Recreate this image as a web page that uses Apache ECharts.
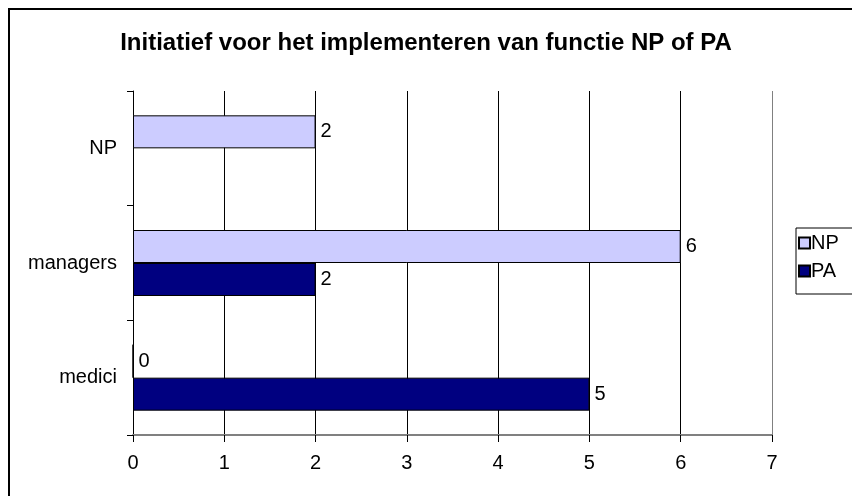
<!DOCTYPE html>
<html>
<head>
<meta charset="utf-8">
<script src="https://cdn.jsdelivr.net/npm/echarts@6/dist/echarts.min.js"></script>
<style>
html, body { margin: 0; padding: 0; background: #fff; }
#chart { width: 852px; height: 496px; }
</style>
</head>
<body>
<div id="chart"></div>
<script>
var categories = ['medici', 'managers', 'NP'];
var npValues = [0, 6, 2];
var paValues = [5, 2, null];
var xTicks = [0, 7, 1];   // min, max, interval

var font = 'Liberation Sans, Arial, sans-serif';
var chart = echarts.init(document.getElementById('chart'));

function barLabel() {
    return {
        show: true,
        position: 'right',
        distance: 5,
        color: '#000',
        fontSize: 20,
        fontFamily: font
    };
}

var option = {
    animation: false,
    backgroundColor: '#fff',
    graphic: [{
        type: 'rect',
        shape: { x: 9, y: 9, width: 900, height: 600 },
        style: { fill: 'none', stroke: '#000', lineWidth: 2 },
        silent: true
    }],
    title: {
        text: 'Initiatief voor het implementeren van functie NP of PA',
        left: 'center',
        top: 26,
        textStyle: {
            fontFamily: font,
            fontSize: 24,
            fontWeight: 'bold',
            color: '#000'
        }
    },
    legend: {
        orient: 'vertical',
        left: 796,
        top: 228,
        data: ['NP', 'PA'],
        icon: 'rect',
        itemWidth: 11,
        itemHeight: 11,
        itemGap: 8,
        padding: [5, 40, 13, 2],
        borderColor: '#000',
        borderWidth: 1,
        textStyle: { fontFamily: font, fontSize: 20, lineHeight: 20, color: '#000', padding: [0, 0, 0, -4] }
    },
    grid: {
        left: 133,
        right: 80,
        top: 91,
        bottom: 61
    },
    xAxis: {
        type: 'value',
        min: xTicks[0],
        max: xTicks[1],
        interval: xTicks[2],
        axisLine: { show: true, lineStyle: { color: '#808080', width: 2 } },
        axisTick: { show: true, length: 7, lineStyle: { color: '#000' } },
        axisLabel: { color: '#000', fontSize: 20, fontFamily: font, margin: 18 },
        splitLine: {
            show: true,
            lineStyle: {
                color: ['#000', '#000', '#000', '#000', '#000', '#000', '#000', '#808080'],
                width: 1
            }
        }
    },
    yAxis: {
        type: 'category',
        data: categories,
        axisLine: { show: true, lineStyle: { color: '#000', width: 1 } },
        axisTick: { show: true, length: 6, lineStyle: { color: '#000' } },
        axisLabel: { color: '#000', fontSize: 20, fontFamily: font, margin: 16 }
    },
    series: [
        {
            name: 'NP',
            type: 'bar',
            barWidth: 33,
            barGap: '0%',
            itemStyle: { color: '#ccccff', borderColor: '#000', borderWidth: 1 },
            label: barLabel(),
            data: npValues
        },
        {
            name: 'PA',
            type: 'bar',
            barWidth: 33,
            barGap: '0%',
            itemStyle: { color: '#000080', borderColor: '#000', borderWidth: 1 },
            label: barLabel(),
            data: paValues
        }
    ]
};

chart.setOption(option);
</script>
</body>
</html>
